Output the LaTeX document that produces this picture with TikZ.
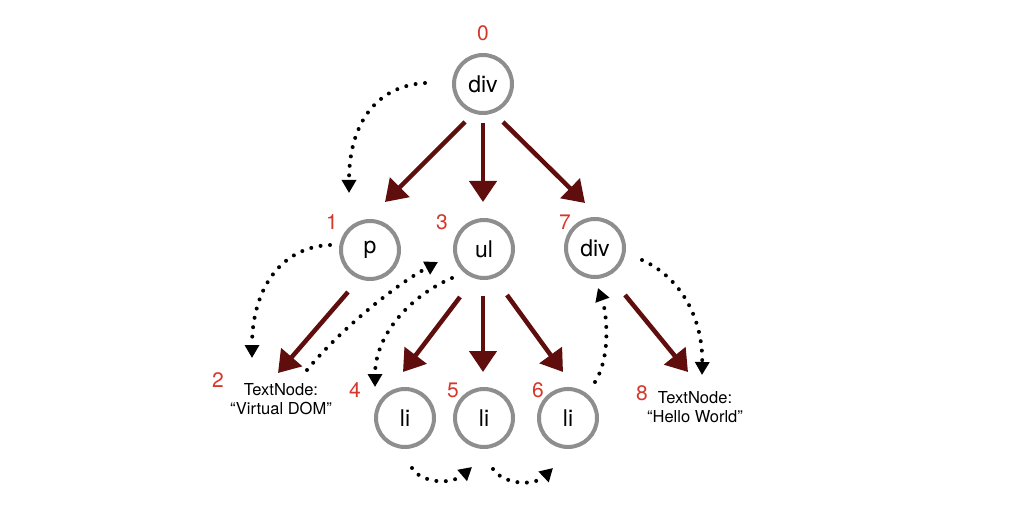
\documentclass[tikz,border=0pt]{standalone}
\usepackage{fontspec}
\setmainfont{TeX Gyre Heros}
\usetikzlibrary{arrows.meta,calc}
\definecolor{numred}{HTML}{D6372B}
\definecolor{brownred}{HTML}{5F0D0D}
\definecolor{ringgray}{HTML}{8E8E8E}
\begin{document}
\begin{tikzpicture}[x=1pt,y=-1pt,
  ring/.style={circle,draw=ringgray,line width=4pt,minimum size=58pt,inner sep=0pt,font=\fontsize{23}{27}\selectfont},
  num/.style={text=numred,font=\fontsize{21}{25}\selectfont,inner sep=0pt},
  txt/.style={align=center,font=\fontsize{16.5}{19}\selectfont,inner sep=0pt},
  tree/.style={draw=brownred,line width=4.5pt,-{Triangle[length=21pt,width=27pt]}},
  walk/.style={draw=black,line width=4pt,line cap=round,dash pattern=on 0pt off 9.5pt,-{Triangle[length=13pt,width=14pt]}}]
\useasboundingbox[fill=white] (0,0) rectangle (1018,513);
% tree nodes
\node[ring] (div0) at (483,84) {div};
\node[ring] (p) at (370,250) {p};
\node[ring] (ul) at (484,249) {ul};
\node[ring] (div7) at (595,248) {div};
\node[ring] (li4) at (405,418) {li};
\node[ring] (li5) at (484,418) {li};
\node[ring] (li6) at (568,418) {li};
\node[txt] (t2) at (281,399) {TextNode:\\“Virtual DOM”};
\node[txt] (t8) at (695,407) {TextNode:\\“Hello World”};
% order numbers
\node[num] (n0) at (483,33) {0};
\node[num] (n1) at (332,222) {1};
\node[num] (n2) at (218,380) {2};
\node[num] (n3) at (442,222) {3};
\node[num] (n4) at (355,390) {4};
\node[num] (n5) at (453,390) {5};
\node[num] (n6) at (538,390) {6};
\node[num] (n7) at (565,222) {7};
\node[num] (n8) at (642,393) {8};
% tree edges
\draw[tree] ($(div0)+(-18,38)$) -- ($(p)+(15,-48)$);
\draw[tree] ($(div0)+(0,39)$) -- ($(ul)+(-1,-47)$);
\draw[tree] ($(div0)+(20,38)$) -- ($(div7)+(-10,-45)$);
\draw[tree] ($(p)+(-22,42)$) -- ($(t2)+(-3,-26)$);
\draw[tree] ($(ul)+(-24,48)$) -- ($(li4)+(-2,-46)$);
\draw[tree] ($(ul)+(-1,47)$) -- ($(li5)+(-1,-46)$);
\draw[tree] ($(ul)+(23,46)$) -- ($(li6)+(-5,-46)$);
\draw[tree] ($(div7)+(30,47)$) -- ($(t8)+(-7,-35)$);
% traversal
\draw[walk] ($(div0)+(-58,-1)$) .. controls (375,86) and (349,125) .. ($(p)+(-21,-57)$);
\draw[walk] ($(p)+(-40,-5)$) .. controls (280,247) and (252,290) .. ($(t2)+(-29,-41)$);
\draw[walk] ($(t2)+(26,-29)$) .. controls (340,330) and (395,285) .. ($(ul)+(-46,13)$);
\draw[walk] ($(ul)+(-32,29)$) .. controls (410,296) and (375,335) .. ($(li4)+(-30,-31)$);
\draw[walk] ($(li4)+(7,50)$) .. controls (420,482) and (450,486) .. ($(li5)+(-12,49)$);
\draw[walk] ($(li5)+(9,51)$) .. controls (503,484) and (533,487) .. ($(li6)+(-15,50)$);
\draw[walk] ($(li6)+(27,-36)$) .. controls (612,355) and (606,310) .. ($(div7)+(3,40)$);
\draw[walk] ($(div7)+(47,12)$) .. controls (682,278) and (703,320) .. ($(t8)+(7,-32)$);
\end{tikzpicture}
\end{document}
